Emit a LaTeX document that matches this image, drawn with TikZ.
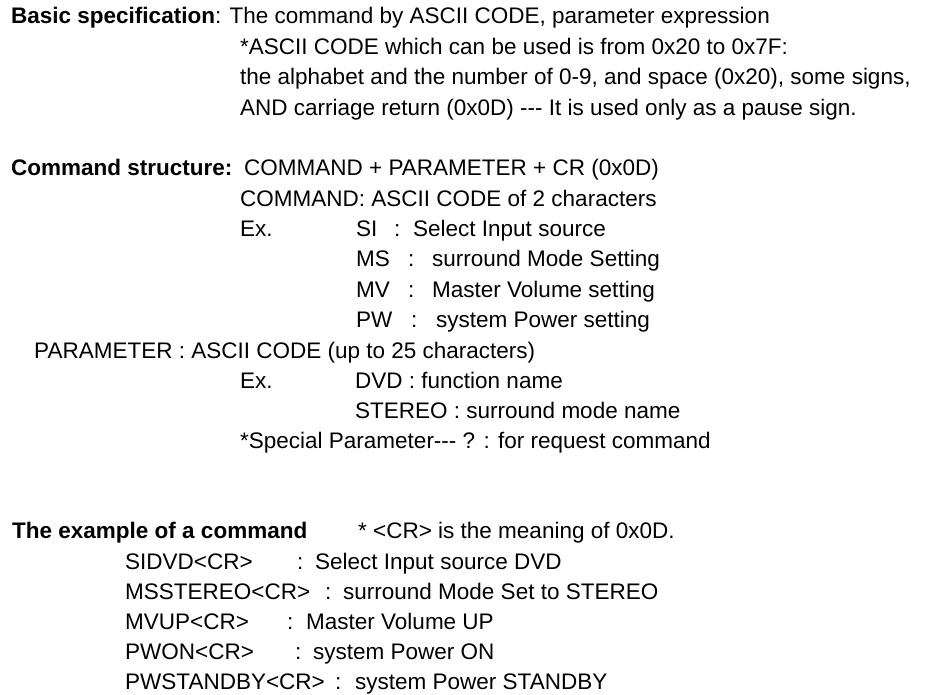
\documentclass[tikz,border=0pt]{standalone}
\usepackage{fontspec}
\setmainfont{Liberation Sans}[Ligatures=NoCommon]
\begin{document}
\begin{tikzpicture}[x=1pt,y=-1pt,
  txt/.style={anchor=base west, inner sep=0pt, font=\fontsize{22.5}{27}\selectfont},
  hd/.style={txt, font=\fontsize{22.5}{27}\selectfont\bfseries}]
\fill[white] (0,0) rectangle (940,695);
\useasboundingbox (0,0) rectangle (940,695);
% Basic specification
\node[txt] (b1) at (11,24) {\textbf{Basic specification}: The command by ASCII CODE, parameter expression};
\node[txt] (b2) at (240,55) {*ASCII CODE which can be used is from 0x20 to 0x7F:};
\node[txt] (b3) at (240,85) {the alphabet and the number of 0-9, and space (0x20), some signs,};
\node[txt] (b4) at (240,116) {AND carriage return (0x0D) -{}-{}- It is used only as a pause sign.};
% Command structure
\node[hd] (c0) at (11,176) {Command structure:};
\node[txt] (c1) at (244,176) {COMMAND + PARAMETER + CR (0x0D)};
\node[txt] (c2) at (240,207) {COMMAND: ASCII CODE of 2 characters};
\node[txt] (ex1) at (240,237) {Ex.};
\node[txt] (si) at (356,237) {SI};
\node[txt] (sic) at (394,237) {:};
\node[txt] (sid) at (413,237) {Select Input source};
\node[txt] (ms) at (356,267) {MS};
\node[txt] (msc) at (408,267) {:};
\node[txt] (msd) at (432,267) {surround Mode Setting};
\node[txt] (mv) at (356,297) {MV};
\node[txt] (mvc) at (408,297) {:};
\node[txt] (mvd) at (432,297) {Master Volume setting};
\node[txt] (pw) at (356,327) {PW};
\node[txt] (pwc) at (411,327) {:};
\node[txt] (pwd) at (436,327) {system Power setting};
\node[txt] (p0) at (34,358) {PARAMETER : ASCII CODE (up to 25 characters)};
\node[txt] (ex2) at (240,388) {Ex.};
\node[txt] (p1) at (355,388) {DVD : function name};
\node[txt] (p2) at (355,418) {STEREO : surround mode name};
\node[txt] (p3) at (240,448) {*Special Parameter-{}-{}- ? : for request command};
% Example
\node[hd] (e0) at (12,538) {The example of a command};
\node[txt] (e1) at (358,538) {* <CR> is the meaning of 0x0D.};
\node[txt] (k1) at (125,569) {SIDVD<CR>};
\node[txt] (k1c) at (297,569) {:};
\node[txt] (k1d) at (315,569) {Select Input source DVD};
\node[txt] (k2) at (125,599) {MSSTEREO<CR>};
\node[txt] (k2c) at (325,599) {:};
\node[txt] (k2d) at (343,599) {surround Mode Set to STEREO};
\node[txt] (k3) at (125,629) {MVUP<CR>};
\node[txt] (k3c) at (287,629) {:};
\node[txt] (k3d) at (306,629) {Master Volume UP};
\node[txt] (k4) at (125,659) {PWON<CR>};
\node[txt] (k4c) at (295,659) {:};
\node[txt] (k4d) at (313,659) {system Power ON};
\node[txt] (k5) at (125,689) {PWSTANDBY<CR>};
\node[txt] (k5c) at (335,689) {:};
\node[txt] (k5d) at (355,689) {system Power STANDBY};
\end{tikzpicture}
\end{document}
